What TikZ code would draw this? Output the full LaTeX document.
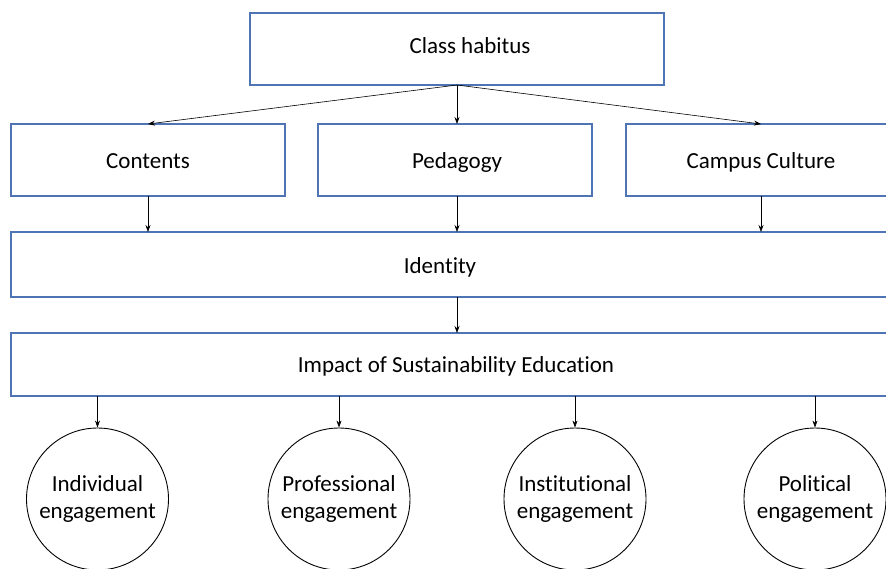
\documentclass[tikz,border=0pt]{standalone}
\usepackage{fontspec}
\setmainfont{Carlito}[Ligatures={NoCommon}]
\usetikzlibrary{arrows.meta}
\definecolor{boxblue}{HTML}{4F74B4}
\begin{document}
\begin{tikzpicture}[x=1pt,y=-1pt,
  box/.style={draw=boxblue,line width=1.1pt,fill=white},
  lbl/.style={anchor=base,inner sep=0pt,font=\fontsize{23}{26}\selectfont},
  circ/.style={draw=black,line width=0.9pt,circle,minimum size=142pt,inner sep=0pt,align=center,font=\fontsize{23}{27}\selectfont},
  arr/.style={-{Stealth[length=7pt,width=5pt]},line width=0.6pt,black}]
\useasboundingbox (0,0) rectangle (886,568);
\begin{scope}
\clip (0,0) rectangle (886,568);
% boxes
\draw[box] (250,13) rectangle (664,85);
\node[lbl] (ch) at (470,53) {Class habitus};
\coordinate (chb) at (457,85);
\draw[box] (11,124) rectangle (285,196);
\node[lbl] (co) at (148,168) {Contents};
\draw[box] (318,124) rectangle (592,196);
\node[lbl] (pe) at (457,168) {Pedagogy};
\draw[box] (626,124) rectangle (900,196);
\node[lbl] (cc) at (761,168) {Campus Culture};
\draw[box] (11,232) rectangle (900,297);
\node[lbl] (id) at (440,273) {Identity};
\draw[box] (11,333) rectangle (900,396);
\node[lbl] (im) at (456,372) {Impact of Sustainability Education};
% circles
\node[circ] (c1) at (97.5,499) {Individual\\engagement};
\node[circ] (c2) at (339,499) {Professional\\engagement};
\node[circ] (c3) at (575,499) {Institutional\\engagement};
\node[circ] (c4) at (815,499) {Political\\engagement};
% arrows
\coordinate (cot) at (148,124);
\coordinate (pet) at (457,124);
\coordinate (cct) at (761,124);
\draw[arr] (chb) -- (cot);
\draw[arr] (chb) -- (pet);
\draw[arr] (chb) -- (cct);
\coordinate (cob) at (148,196); \coordinate (idt1) at (148,232);
\coordinate (peb) at (457,196); \coordinate (idt2) at (457,232);
\coordinate (ccb) at (761,196); \coordinate (idt3) at (761,232);
\draw[arr] (cob) -- (idt1);
\draw[arr] (peb) -- (idt2);
\draw[arr] (ccb) -- (idt3);
\coordinate (idb) at (457,297); \coordinate (imt) at (457,333);
\draw[arr] (idb) -- (imt);
\coordinate (i1) at (97.5,396); \coordinate (i2) at (339,396);
\coordinate (i3) at (575,396); \coordinate (i4) at (815,396);
\draw[arr] (i1) -- (c1.north);
\draw[arr] (i2) -- (c2.north);
\draw[arr] (i3) -- (c3.north);
\draw[arr] (i4) -- (c4.north);
\end{scope}
\end{tikzpicture}
\end{document}
